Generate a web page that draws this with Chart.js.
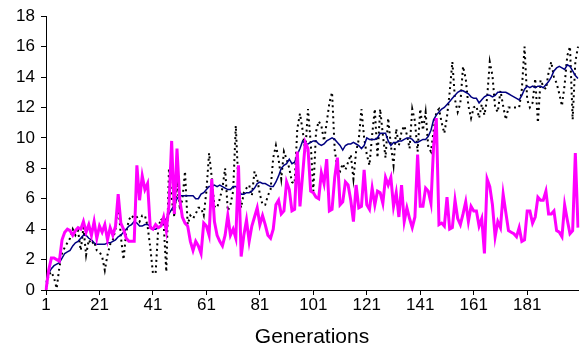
<!DOCTYPE html>
<html>
<head>
<meta charset="utf-8">
<script src="https://cdn.jsdelivr.net/npm/chart.js@4"></script>
<style>
  body { margin: 0; background: #fff; }
  #wrap { width: 581px; height: 352px; }
</style>
</head>
<body>
<div id="wrap"><canvas id="chart" width="581" height="352"></canvas></div>
<script>
// generations 1..200
const generations = Array.from({ length: 200 }, (_, i) => String(i + 1));
const yTicks = [0, 2, 4, 6, 8, 10, 12, 14, 16, 18];

// dotted black series (per generation)
const bestValues = [
  0, 1.0, 1.2, 0.8, 0.1, 1.5, 2.4, 2.8, 3.1, 3.4,
  4.0, 3.6, 3.9, 2.6, 4.1, 2.3, 3.3, 3.0, 3.2, 2.6,
  2.5, 2.2, 1.3, 2.3, 3.0, 3.3, 4.0, 5.8, 3.5, 2.0,
  3.8, 4.6, 4.9, 4.7, 4.8, 4.5, 4.9, 4.9, 4.2, 2.8,
  1.1, 1.1, 4.1, 4.7, 4.4, 1.2, 8.0, 6.0, 4.8, 6.9,
  5.5, 5.9, 7.8, 4.3, 4.9, 4.7, 5.0, 5.4, 5.4, 4.9,
  6.5, 9.0, 7.4, 5.5, 5.4, 6.0, 6.7, 8.0, 5.2, 5.6,
  6.5, 10.8, 6.8, 5.4, 6.4, 6.7, 6.9, 6.2, 7.8, 7.3,
  6.3, 5.6, 5.6, 6.2, 6.6, 8.7, 9.5, 8.6, 7.3, 9.1,
  8.6, 8.0, 7.1, 7.0, 10.6, 11.6, 10.5, 9.1, 11.9, 9.7,
  6.5, 10.4, 11.1, 10.8, 9.8, 11.0, 12.3, 13.0, 9.2, 8.0,
  7.8, 8.3, 7.9, 8.4, 8.9, 7.3, 9.1, 9.9, 11.9, 10.0,
  8.9, 8.2, 10.2, 11.9, 8.7, 11.9, 10.2, 8.7, 11.3, 9.5,
  8.2, 10.6, 9.5, 10.4, 10.8, 10.2, 9.3, 11.9, 11.1, 9.1,
  11.9, 10.5, 11.7, 9.4, 9.1, 10.5, 11.7, 11.9, 11.0, 10.3,
  11.4, 13.0, 15.0, 12.5, 11.7, 12.3, 14.7, 13.9, 12.1, 11.3,
  12.0, 12.1, 11.3, 12.2, 11.5, 12.6, 15.0, 14.1, 12.0, 11.7,
  13.1, 12.1, 11.2, 12.0, 12.0, 12.0, 12.0, 12.0, 13.2, 16.0,
  12.5, 12.0, 12.3, 13.9, 11.0, 13.8, 13.4, 13.2, 14.3, 15.0,
  14.0, 13.6, 12.9, 12.1, 13.5, 15.4, 16.0, 11.2, 15.0, 16.0
];

// navy series (smoothed)
const averageValues = [
  0.5, 1.1, 1.4, 1.6, 1.7, 1.8, 2.1, 2.4, 2.5, 2.6,
  2.9, 3.1, 3.2, 3.4, 3.6, 3.6, 3.4, 3.3, 3.1, 3.0,
  3.0, 3.0, 3.0, 3.1, 3.1, 3.2, 3.3, 3.5, 3.6, 3.8,
  4.0, 4.2, 4.3, 4.5, 4.4, 4.2, 4.2, 4.3, 4.3, 4.2,
  4.0, 4.0, 4.1, 4.2, 4.4, 4.7, 5.0, 5.3, 5.6, 6.0,
  6.2, 6.2, 6.2, 6.2, 6.2, 6.2, 6.0, 6.0, 6.3, 6.4,
  6.6, 6.8, 6.8, 6.9, 6.8, 6.9, 6.8, 6.7, 6.6, 6.6,
  6.8, 6.8, 6.6, 6.3, 6.3, 6.4, 6.4, 6.5, 6.7, 7.0,
  7.1, 7.0, 7.0, 6.9, 6.8, 6.8, 7.1, 7.5, 8.0, 8.2,
  8.3, 8.6, 8.3, 8.4, 8.9, 9.3, 9.8, 9.6, 9.6, 9.7,
  9.8, 9.8, 9.6, 9.5, 9.6, 9.8, 9.9, 10.0, 9.9, 9.7,
  9.5, 9.2, 9.5, 9.6, 9.6, 9.7, 9.6, 9.5, 9.3, 9.5,
  10.0, 9.9, 9.9, 9.9, 10.0, 10.3, 10.3, 10.3, 9.8, 9.5,
  9.7, 9.7, 9.8, 9.8, 9.9, 10.0, 10.0, 9.9, 9.7, 9.7,
  9.8, 9.9, 9.9, 10.1, 10.5, 11.2, 11.5, 11.7, 11.9, 12.0,
  12.2, 12.4, 12.6, 12.8, 13.0, 13.1, 13.1, 13.0, 12.9, 12.7,
  12.6, 12.6, 12.3, 12.5, 12.7, 12.8, 12.8, 12.7, 12.8, 13.0,
  13.0, 13.0, 13.0, 12.9, 12.8, 12.7, 12.6, 12.5, 12.8, 13.2,
  13.4, 13.3, 13.4, 13.3, 13.4, 13.4, 13.3, 13.5, 13.7, 14.0,
  14.4, 14.6, 14.7, 14.6, 14.5, 14.8, 14.7, 14.4, 14.1, 13.9
];

// magenta series
const currentValues = [
  0, 1.3, 2.1, 2.1, 2.0, 1.9, 3.3, 3.8, 4.0, 3.9,
  3.6, 3.9, 4.1, 4.0, 4.5, 3.8, 4.3, 3.6, 4.5, 3.4,
  4.2, 3.8, 4.3, 3.3, 4.1, 3.6, 4.2, 6.3, 4.4, 4.0,
  3.4, 3.2, 3.2, 3.2, 8.2, 5.9, 7.5, 6.6, 7.0, 4.1,
  4.0, 4.3, 4.1, 4.2, 4.8, 3.9, 5.6, 9.8, 5.0, 9.3,
  6.0, 4.8, 4.4, 4.2, 3.2, 2.6, 3.2, 2.9, 2.4, 4.4,
  4.2, 3.6, 7.3, 4.5, 3.6, 3.2, 2.9, 3.6, 4.9, 3.6,
  4.0, 3.4, 8.2, 2.2, 3.6, 4.6, 3.2, 4.2, 4.8, 5.4,
  4.3, 4.9, 4.3, 3.6, 3.4, 4.0, 5.6, 5.9, 5.0, 5.2,
  7.1, 6.6, 5.2, 5.3, 9.1, 5.5, 7.6, 9.7, 9.3, 6.5,
  6.4, 6.1, 6.0, 7.7, 7.0, 8.6, 5.2, 5.3, 7.4, 8.7,
  5.6, 5.8, 7.1, 6.9, 5.9, 4.5, 6.9, 5.4, 5.5, 7.9,
  5.6, 5.3, 6.7, 5.6, 6.5, 6.4, 5.7, 7.4, 6.9, 7.4,
  5.5, 6.4, 4.8, 6.9, 4.5, 5.4, 4.7, 4.1, 4.8, 8.9,
  5.5, 5.5, 6.7, 6.5, 5.7, 9.5, 11.3, 4.3, 4.4, 4.2,
  6.1, 4.0, 4.1, 5.9, 4.7, 4.3, 5.0, 5.8, 4.5, 5.5,
  5.2, 5.2, 4.2, 4.7, 2.4, 7.3, 6.8, 5.6, 3.5, 4.5,
  4.1, 6.3, 5.1, 3.9, 3.8, 3.7, 3.5, 4.1, 3.2, 3.3,
  5.2, 5.2, 4.4, 4.8, 6.1, 5.9, 5.9, 6.5, 5.0, 5.0,
  5.2, 3.9, 3.8, 3.5, 5.6, 4.6, 3.7, 3.9, 9.0, 4.1
];

const FONT = "'Liberation Sans', Arial, sans-serif";

new Chart(document.getElementById("chart").getContext("2d"), {
  type: "line",
  data: {
    labels: generations,
    datasets: [
      {
        data: currentValues,
        borderColor: "#ff00ff",
        borderWidth: 3,
        pointRadius: 0,
        tension: 0,
        order: 0
      },
      {
        data: averageValues,
        borderColor: "#000080",
        borderWidth: 1.5,
        pointRadius: 0,
        tension: 0,
        order: 1
      },
      {
        data: bestValues,
        borderColor: "#000000",
        borderWidth: 2,
        borderDash: [2, 3.5],
        borderCapStyle: "butt",
        pointRadius: 0,
        tension: 0,
        order: 2
      }
    ]
  },
  options: {
    responsive: false,
    animation: false,
    layout: { padding: { left: 0, right: 3, top: 14, bottom: 2 } },
    plugins: { legend: { display: false }, tooltip: { enabled: false } },
    scales: {
      x: {
        offset: false,
        border: { display: true, color: "#000", width: 1 },
        grid: {
          drawOnChartArea: false,
          tickLength: 5,
          color: ctx => (ctx.index % 20 === 0 ? "#000" : "rgba(0,0,0,0)")
        },
        ticks: {
          autoSkip: false,
          maxRotation: 0,
          color: "#000",
          font: { family: FONT, size: 17 },
          padding: 0,
          callback: (val, i) => (i % 20 === 0 ? generations[i] : "")
        },
        title: {
          display: true,
          text: "Generations",
          color: "#000",
          font: { family: FONT, size: 21 },
          padding: { top: 4, bottom: 0 }
        },
        afterFit: s => { s.height = 60; }
      },
      y: {
        min: 0,
        max: 18,
        border: { display: true, color: "#000", width: 1 },
        grid: { drawOnChartArea: false, tickLength: 5, color: "#000" },
        ticks: {
          stepSize: 2,
          color: "#000",
          font: { family: FONT, size: 17 },
          padding: 6,
          callback: v => (yTicks.includes(v) ? String(v) : "")
        },
        afterFit: s => { s.width = 46; }
      }
    }
  }
});
</script>
</body>
</html>
